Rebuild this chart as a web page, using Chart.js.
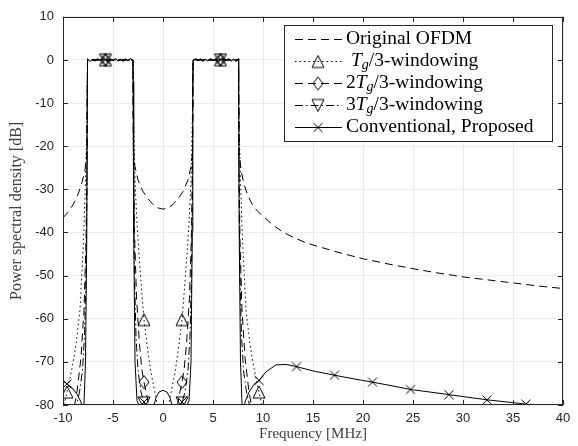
<!DOCTYPE html>
<html lang="en">
<head>
<meta charset="UTF-8">
<title>Power spectral density</title>
<script src="https://cdn.jsdelivr.net/npm/chart.js"></script>
<style>
  body { margin: 0; background: #fff; }
  .chart-container { position: relative; width: 578px; height: 446px; }
</style>
</head>
<body>
<div class="chart-container"><canvas id="psdChart"></canvas></div>
<script>
// axis ticks
const freqTicks = [-10, -5, 0, 5, 10, 15, 20, 25, 30, 35, 40];
const psdTicks = [10, 0, -10, -20, -30, -40, -50, -60, -70, -80];

// frequencies where the curve markers sit
const markerFreqs = [-9.6, -5.75, -1.9, 1.9, 5.75, 9.6, 13.35, 17.15, 20.95, 24.75, 28.6, 32.4, 36.3];

// original OFDM
const ofdmFreq = [-10, -9.5, -9, -8.5, -8.1, -7.8, -7.62, -7.55, -5.75, -3.0,
  -2.95, -2.8, -2.5, -2.0, -1.5, -1.0, -0.5, 0, 0.5, 1.0, 1.5, 2.0, 2.5, 2.8, 2.95,
  3.0, 5.75, 7.55, 7.62, 7.8, 8.1, 8.5, 9, 9.5, 10, 11, 12, 13, 14, 15,
  17.5, 20, 22.5, 25, 27.5, 30, 32.5, 35, 37.5, 40];
const ofdmPsd = [-36.6, -35.3, -33.6, -31.2, -28.4, -25.5, -21.5, 0, 0, 0,
  -21.5, -24.8, -27.8, -30.5, -32.2, -33.5, -34.3, -34.6, -34.3, -33.5, -32.2, -30.5, -27.8, -24.8, -21.5,
  0, 0, 0, -21.5, -25.5, -28.8, -31.6, -33.8, -35.2, -36.2, -38.3, -39.9, -41.1, -42.1, -42.9,
  -44.6, -46.1, -47.3, -48.4, -49.4, -50.3, -51.0, -51.7, -52.4, -53.0];

// Tg/3 windowing
const win1Freq = [-10, -9.6, -9.1, -8.7, -8.3, -7.95, -7.75, -7.6, -7.55, -5.75, -3.0,
  -2.95, -2.8, -2.6, -2.4, -2.15, -1.9, -1.6, -1.2, -0.73, -0.4, 0,
  0.4, 0.73, 1.2, 1.6, 1.9, 2.15, 2.4, 2.6, 2.8, 2.95,
  3.0, 5.75, 7.55, 7.6, 7.75, 7.95, 8.3, 8.7, 9.1, 9.6, 10, 10.5];
const win1Psd = [-81, -77, -71.5, -66, -58, -42, -28, -14, 0, 0, 0,
  -12, -28, -38, -45, -53, -60.2, -66, -72.5, -78, -82, -84,
  -82, -78, -72.5, -66, -60.2, -53, -45, -38, -28, -12,
  0, 0, 0, -14, -28, -42, -58, -66, -71.5, -77, -81, -87];

// 2Tg/3 windowing
const win2Freq = [-10, -9.6, -9.0, -8.6, -8.2, -7.9, -7.7, -7.6, -7.55, -5.75, -3.0,
  -2.95, -2.85, -2.65, -2.35, -2.1, -1.9, -1.6, -1.3, -0.8, 0,
  0.8, 1.3, 1.6, 1.9, 2.1, 2.35, 2.65, 2.85, 2.95,
  3.0, 5.75, 7.55, 7.6, 7.7, 7.9, 8.2, 8.6, 9.0, 9.6, 10];
const win2Psd = [-92, -88, -82, -77, -69, -58, -42, -25, 0, 0, 0,
  -22, -40, -55, -66, -72, -74.7, -78, -82, -88, -92,
  -88, -82, -78, -74.7, -72, -66, -55, -40, -22,
  0, 0, 0, -25, -42, -58, -69, -77, -82, -88, -92];

// 3Tg/3 windowing
const win3Freq = [-10, -9.6, -9.1, -8.7, -8.35, -8.05, -7.85, -7.7, -7.6, -7.55, -5.75, -3.0,
  -2.95, -2.85, -2.7, -2.5, -2.2, -1.9, -1.6, -1.2, 0,
  1.2, 1.6, 1.9, 2.2, 2.5, 2.7, 2.85, 2.95,
  3.0, 5.75, 7.55, 7.6, 7.7, 7.85, 8.05, 8.35, 8.7, 9.1, 9.6, 10];
const win3Psd = [-92, -88, -84, -80.5, -77, -72, -64, -50, -30, 0, 0, 0,
  -30, -50, -64, -72, -77, -79.5, -83, -88, -95,
  -88, -83, -79.5, -77, -72, -64, -50, -30,
  0, 0, 0, -30, -50, -64, -72, -77, -80.5, -84, -88, -92];

// conventional / proposed
const convFreq = [-10, -9.6, -9.1, -8.6, -8.2, -7.95, -7.75, -7.62, -7.57, -7.55,
  -7.3, -7.05, -6.8, -6.55, -6.3, -6.05, -5.75, -5.5, -5.25, -5.0,
  -4.75, -4.5, -4.25, -4.0, -3.75, -3.5, -3.25, -3.02, -2.98, -2.93,
  -2.8, -2.6, -2.3, -1.9, -1.5, -1.2, -0.95, -0.7, -0.4, 0,
  0.4, 0.7, 0.95, 1.2, 1.5, 1.9, 2.3, 2.6, 2.8, 2.93,
  2.98, 3.02, 3.25, 3.5, 3.75, 4.0, 4.25, 4.5, 4.75, 5.0,
  5.25, 5.5, 5.75, 6.05, 6.3, 6.55, 6.8, 7.05, 7.3, 7.55,
  7.57, 7.62, 7.75, 7.95, 8.2, 8.6, 9.1, 9.6, 10.3, 11.3,
  12.3, 13.35, 15, 17.15, 19, 20.95, 23, 24.75, 26.7, 28.6,
  30.5, 32.4, 34.4, 36.3, 38.2, 40];
const convPsd = [-74.5, -75.1, -76, -77.5, -79.3, -83, -70, -40, -5, 0.3,
  -0.4, 0.2, -0.3, 0.4, -0.2, 0.3, 0.1, -0.4, 0.3, -0.2,
  0.4, -0.3, 0.2, -0.4, 0.3, -0.2, 0.4, -0.3, -5, -40,
  -70, -79, -80.5, -79.3, -81, -86, -80.5, -78.3, -77, -76.6,
  -77, -78.3, -80.5, -86, -81, -79.3, -80.5, -79, -70, -40,
  -5, -0.3, 0.4, -0.2, 0.3, -0.4, 0.2, -0.3, 0.4, -0.2,
  0.3, -0.4, 0.1, 0.3, -0.2, 0.4, -0.3, 0.2, -0.4, 0.3,
  -5, -40, -70, -83, -79.3, -77, -75.2, -74.3, -72.3, -70.7,
  -70.6, -71.1, -72.1, -73.1, -73.9, -74.7, -75.6, -76.4, -77, -77.6,
  -78.2, -78.8, -79.3, -79.8, -80.3, -80.8];

const seriesNames = ['Original OFDM', 'Tg/3-windowing', '2Tg/3-windowing', '3Tg/3-windowing', 'Conventional, Proposed'];

const SERIF = '"Liberation Serif", "DejaVu Serif", serif';
const SANS = '"Liberation Sans", Arial, sans-serif';

// hollow marker glyphs, drawn once and reused as point styles
function makeMarker(kind) {
  const c = document.createElement('canvas');
  c.width = 16; c.height = 16;
  const g = c.getContext('2d');
  g.strokeStyle = '#000';
  g.lineWidth = 1;
  g.beginPath();
  if (kind === 'up') {
    g.moveTo(8, 2); g.lineTo(14, 14); g.lineTo(2, 14); g.closePath();
  } else if (kind === 'down') {
    g.moveTo(2, 2); g.lineTo(14, 2); g.lineTo(8, 14); g.closePath();
  } else if (kind === 'diamond') {
    g.moveTo(8, 1.5); g.lineTo(13, 8); g.lineTo(8, 14.5); g.lineTo(3, 8); g.closePath();
  } else {
    g.moveTo(3.5, 3.5); g.lineTo(12.5, 12.5);
    g.moveTo(12.5, 3.5); g.lineTo(3.5, 12.5);
  }
  g.stroke();
  return c;
}
const markers = {
  up: makeMarker('up'), down: makeMarker('down'),
  diamond: makeMarker('diamond'), cross: makeMarker('cross')
};

function toPoints(xs, ys) {
  return xs.map((x, i) => ({ x: x, y: ys[i] }));
}

function series(label, xs, ys, dash, marker) {
  return {
    label: label,
    data: toPoints(xs, ys),
    showLine: true,
    borderColor: '#000',
    borderWidth: 1,
    borderDash: dash,
    tension: 0,
    pointStyle: marker ? markers[marker] : false,
    pointRadius: ctx => (marker && ctx.raw && markerFreqs.includes(ctx.raw.x)) ? 6 : 0,
    pointHoverRadius: 0,
    _marker: marker
  };
}

const datasets = [
  series(seriesNames[0], ofdmFreq, ofdmPsd, [8, 5], null),
  series(seriesNames[1], win1Freq, win1Psd, [1.5, 3], 'up'),
  series(seriesNames[2], win2Freq, win2Psd, [8, 5], 'diamond'),
  series(seriesNames[3], win3Freq, win3Psd, [8, 3, 1.5, 3], 'down'),
  series(seriesNames[4], convFreq, convPsd, [], 'cross')
];

// legend labels with math parts: [text, 'n' | 'i' | 's']
const legendParts = [
  [['Original OFDM', 'n']],
  [[' ', 'n'], ['T', 'i'], ['g', 's'], ['/3-windowing', 'n']],
  [['2', 'n'], ['T', 'i'], ['g', 's'], ['/3-windowing', 'n']],
  [['3', 'n'], ['T', 'i'], ['g', 's'], ['/3-windowing', 'n']],
  [['Conventional, Proposed', 'n']]
];

const frame = {
  id: 'frame',
  afterDatasetsDraw(chart) {
    const { ctx, chartArea: a, scales } = chart;
    ctx.save();
    ctx.strokeStyle = '#262626';
    ctx.lineWidth = 1;
    ctx.strokeRect(Math.round(a.left) + 0.5, Math.round(a.top) + 0.5,
      Math.round(a.right - a.left) - 1, Math.round(a.bottom - a.top) - 1);
    ctx.beginPath();
    const tl = 5;
    freqTicks.forEach(v => {
      const x = Math.round(scales.x.getPixelForValue(v)) + 0.5;
      ctx.moveTo(x, a.bottom); ctx.lineTo(x, a.bottom - tl);
      ctx.moveTo(x, a.top); ctx.lineTo(x, a.top + tl);
    });
    psdTicks.forEach(v => {
      const y = Math.round(scales.y.getPixelForValue(v)) + 0.5;
      ctx.moveTo(a.left, y); ctx.lineTo(a.left + tl, y);
      ctx.moveTo(a.right, y); ctx.lineTo(a.right - tl, y);
    });
    ctx.stroke();
    ctx.restore();
  },
  afterDraw(chart) {
    const { ctx, chartArea: a } = chart;
    ctx.save();
    // axis titles
    ctx.fillStyle = '#404040';
    ctx.font = '15px ' + SERIF;
    ctx.textAlign = 'center';
    ctx.textBaseline = 'middle';
    ctx.fillText('Frequency [MHz]', (a.left + a.right) / 2, 434);
    ctx.font = '16px ' + SERIF;
    ctx.translate(17, (a.top + a.bottom) / 2);
    ctx.rotate(-Math.PI / 2);
    ctx.fillText('Power spectral density [dB]', 0, 0);
    ctx.restore();

    // legend box
    const bx = 284, by = 25, bw = 268, bh = 116, rowH = 22;
    ctx.save();
    ctx.fillStyle = '#fff';
    ctx.fillRect(bx, by, bw, bh);
    ctx.strokeStyle = '#262626';
    ctx.lineWidth = 1;
    ctx.strokeRect(bx + 0.5, by + 0.5, bw, bh);
    const fs = 19.5;
    chart.data.datasets.forEach((ds, i) => {
      const y = by + 14 + i * rowH;
      ctx.strokeStyle = '#000';
      ctx.lineWidth = 1;
      ctx.setLineDash(ds.borderDash);
      ctx.beginPath();
      ctx.moveTo(295, Math.round(y) + 0.5);
      ctx.lineTo(342, Math.round(y) + 0.5);
      ctx.stroke();
      ctx.setLineDash([]);
      if (ds._marker) {
        ctx.drawImage(markers[ds._marker], 318 - 8, Math.round(y) - 7.5);
      }
      let x = 346;
      ctx.fillStyle = '#000';
      ctx.textAlign = 'left';
      ctx.textBaseline = 'middle';
      legendParts[i].forEach(([t, s]) => {
        if (s === 'n') ctx.font = fs + 'px ' + SERIF;
        else if (s === 'i') ctx.font = 'italic ' + fs + 'px ' + SERIF;
        else ctx.font = 'italic ' + Math.round(fs * 0.7) + 'px ' + SERIF;
        ctx.fillText(t, x, s === 's' ? y + 4 : y);
        x += ctx.measureText(t).width;
      });
    });
    ctx.restore();
  }
};

const chart = new Chart(document.getElementById('psdChart'), {
  type: 'scatter',
  data: { datasets: datasets },
  options: {
    responsive: true,
    maintainAspectRatio: false,
    animation: false,
    layout: { padding: { top: 11, right: 15, left: 0, bottom: 0 } },
    plugins: {
      legend: { display: false },
      tooltip: { enabled: false }
    },
    scales: {
      x: {
        type: 'linear',
        min: -10,
        max: 40,
        afterBuildTicks: s => { s.ticks = freqTicks.map(v => ({ value: v })); },
        afterFit: s => { s.height = 41; },
        grid: { color: '#ebebeb', drawTicks: false },
        border: { display: false },
        ticks: { padding: 6, color: '#262626', font: { family: SANS, size: 13 } }
      },
      y: {
        type: 'linear',
        min: -80,
        max: 10,
        afterBuildTicks: s => { s.ticks = psdTicks.map(v => ({ value: v })); },
        afterFit: s => { s.width = 63; },
        grid: { color: '#ebebeb', drawTicks: false },
        border: { display: false },
        ticks: { padding: 9, color: '#262626', font: { family: SANS, size: 13 } }
      }
    }
  },
  plugins: [frame]
});
</script>
</body>
</html>
